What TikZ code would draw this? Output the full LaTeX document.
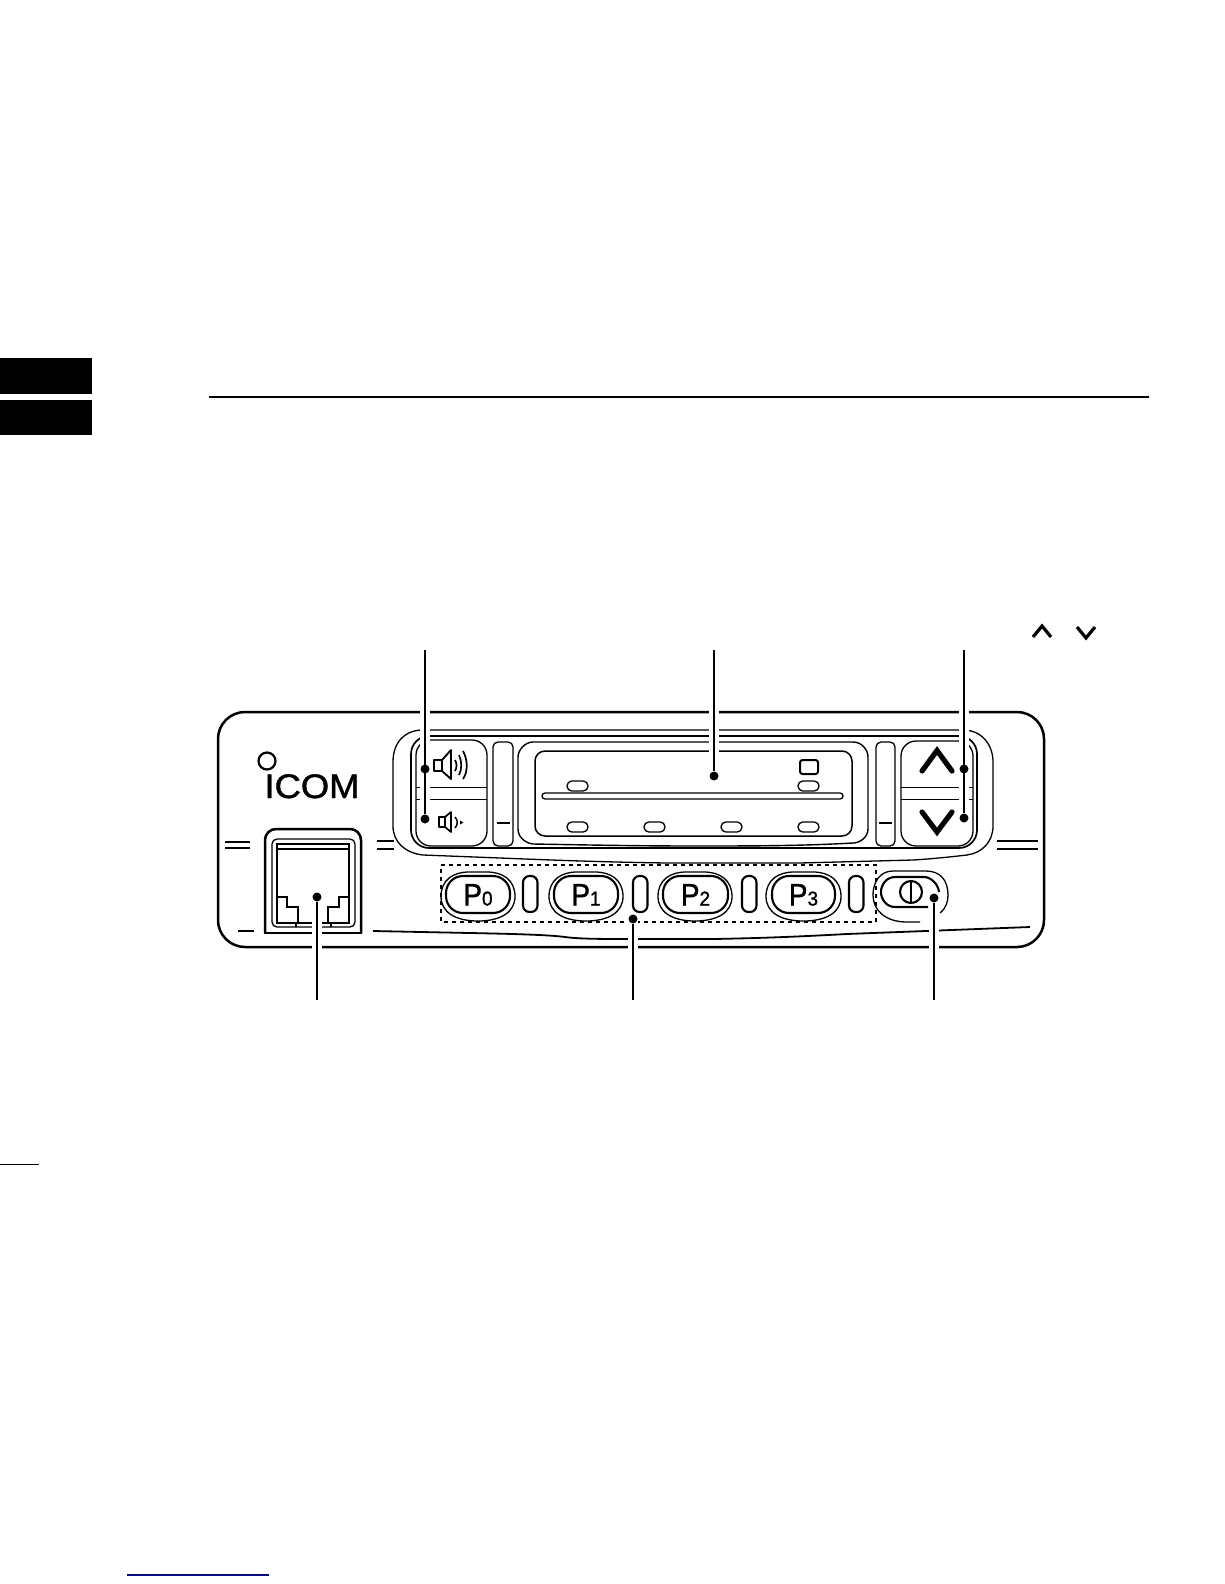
\documentclass[tikz,border=0pt]{standalone}
\usepackage{fontspec}
\setmainfont{Liberation Sans}
\newfontfamily\heavyfont[FakeBold=1.2]{Liberation Sans}
\newcommand{\plbtn}[5]{%
  \draw[thinln] (#1,896.5) .. controls (#1,880) and ({#1+12},872) .. ({#1+28},872) -- ({#2-28},872) .. controls ({#2-12},872) and (#2,880) .. (#2,896.5) .. controls (#2,912) and ({#2-14},921) .. ({(#1+#2)/2},921) .. controls ({#1+14},921) and (#1,912) .. (#1,896.5) -- cycle;
  \draw[btnln,rounded corners=17pt] (#3,876) rectangle (#4,913);
  \node[ptext] (#5) at ({(#3+#4)/2},905.5) {\scalebox{0.9}[1]{P}{\fontsize{20}{20}\selectfont\scalebox{0.95}[1]{#5}}};
}
\tikzset{
  thinln/.style={line width=1.3pt,black},
  btnln/.style={line width=2.1pt,black},
  bodyln/.style={line width=2.5pt,black},
  ptext/.style={anchor=base,inner sep=0pt,font=\heavyfont\fontsize{31}{31}\selectfont},
  dotn/.style={circle,fill=black,inner sep=0pt,minimum size=9pt},
  halo/.style={line width=10pt,white},
  leader/.style={line width=2.5pt,black},
  chev/.style={line width=5.2pt,black,line join=miter,line cap=round},
  smallchev/.style={line width=3.2pt,black,line join=miter},
  ovalbtn/.style={line width=1.3pt,black,rounded corners=4.8pt},
}
\begin{document}
\begin{tikzpicture}[x=1pt,y=-1pt]
\useasboundingbox[fill=white] (0,0) rectangle (1224,1584);
% page furniture
\fill[black] (0,358) rectangle (92,394);
\fill[black] (0,400) rectangle (92,435);
\draw[line width=2pt] (209,397) -- (1149,397);
\draw[line width=1.6pt] (0,1164.5) -- (39,1164.5);
\draw[line width=1.4pt,color={rgb,255:red,10;green,10;blue,130}] (127,1575) -- (269,1575);
\draw[smallchev] (1033,637) -- (1042,626) -- (1051,637);
\draw[smallchev] (1077,627) -- (1086,638) -- (1095,627);
% body
\draw[bodyln,rounded corners=27pt] (218,712) rectangle (1044,947);
% body marks
\draw[line width=1.8pt] (225,842) -- (250,842) (225,848) -- (250,848);
\draw[line width=1.8pt] (377,841) -- (394,841) (377,849) -- (394,849);
\draw[line width=1.8pt] (997,841) -- (1038,841) (997,849) -- (1038,849);
\draw[line width=1.8pt] (238,931) -- (254,931);
\draw[line width=1.8pt] (373,931) -- (470,933) .. controls (520,934) and (550,935) .. (565,937) .. controls (580,939) and (600,939) .. (637,939) -- (713,939) .. controls (770,938) and (810,936) .. (847,934) -- (1030,927);
% logo
\draw[line width=2.2pt] (267,761) circle (8.5);
\node[anchor=base,inner sep=0pt,font=\heavyfont\fontsize{34}{34}\selectfont] (logo) at (312,798) {\scalebox{1.07}[1]{ICOM}};
% port
\draw[bodyln,rounded corners=11pt] (265,933) -- (265,829) -- (361,829) -- (361,933);
\draw[bodyln] (264,933) -- (362,933);
\draw[thinln,rounded corners=5pt] (272,839) rectangle (355,927);
\draw[thinln] (277,844) rectangle (349,923);
\draw[thinln] (277,849) -- (349,849);
\draw[thinln] (277,897) -- (287,897) -- (287,907) -- (298,907) -- (298,923);
\draw[thinln] (349,897) -- (339,897) -- (339,907) -- (328,907) -- (328,923);
\draw[thinln] (296,923) -- (296,927) (331,923) -- (331,927);
% bezel
\draw[thinln] (423,730) -- (963,730) .. controls (982,730) and (993,745) .. (993,762) -- (993,826) .. controls (993,842) and (982,853) .. (967,855) .. controls (950,857) and (930,859) .. (913,860) -- (800,863) -- (667,863) .. controls (600,862) and (550,860) .. (500,858) -- (423,855) .. controls (405,853) and (393,842) .. (393,826) -- (393,762) .. controls (393,742) and (405,730) .. (423,730) -- cycle;
\draw[line width=1.7pt,rounded corners=18pt] (411,736) rectangle (977,848);
% speaker button
\draw[thinln,rounded corners=15pt] (416,740) rectangle (487,846);
\draw[thinln] (416,787.5) -- (487,787.5) (416,799.5) -- (487,799.5);
% speaker icons
\draw[line width=1.8pt,line join=round] (434,760) rectangle (442,771);
\draw[line width=1.8pt,line join=round] (442,760) -- (451,750) -- (451,779) -- (442,771);
\draw[line width=1.7pt] (455,760) .. controls (457,763) and (457,768) .. (455,771);
\draw[line width=1.7pt] (459,755) .. controls (462,761) and (462,770) .. (459,775);
\draw[line width=1.7pt] (463,751) .. controls (468,760) and (468,772) .. (463,779);
\draw[line width=1.7pt,line join=round] (439,817) rectangle (445,827);
\draw[line width=1.7pt,line join=round] (445,817) -- (451,812) -- (451,832) -- (445,827);
\draw[line width=1.5pt] (455,817) .. controls (458,820) and (458,825) .. (455,828);
\fill[black] (460,820.5) -- (463.5,822.5) -- (460,824.5) -- cycle;
% sliders
\draw[thinln,rounded corners=5pt] (493,742) rectangle (513,846);
\draw[thinln] (497,823) -- (510,823);
\draw[thinln,rounded corners=5pt] (876,742) rectangle (895,846);
\draw[thinln] (879,823) -- (892,823);
% display
\draw[line width=1.4pt] (533,742) -- (853,742) .. controls (862,742) and (868,750) .. (868,757) -- (868,829) .. controls (868,837) and (860,843) .. (853,843) .. controls (800,846) and (750,846) .. (693,846) .. controls (640,846) and (590,845) .. (533,844) .. controls (525,843) and (518,837) .. (518,829) -- (518,757) .. controls (518,750) and (525,742) .. (533,742) -- cycle;
\draw[line width=1.5pt,rounded corners=10pt] (535,751) rectangle (852,836);
\draw[thinln,rounded corners=3pt] (542,793) rectangle (843,799);
\foreach \x in {567,798} \draw[ovalbtn] (\x,781) rectangle ({\x+21},791);
\foreach \x in {567,644,721,798} \draw[ovalbtn] (\x,822) rectangle ({\x+21},832);
\draw[line width=2pt,rounded corners=2.5pt] (800,760) rectangle (818,774);
% up/down button
\draw[thinln,rounded corners=15pt] (901,741) rectangle (973,846);
\draw[thinln] (901,787.5) -- (973,787.5) (901,799.5) -- (973,799.5);
\draw[chev] (922,771) -- (937,750.5) -- (952,771);
\draw[chev] (922,812) -- (937,832) -- (952,812);
% dotted box
\draw[line width=2.8pt,dash pattern=on 4pt off 4pt] (441,865) -- (876,865) -- (876,922) -- (441,922) -- cycle;
% P buttons
\plbtn{441}{515}{446}{510}{0}
\plbtn{549}{623}{554}{618}{1}
\plbtn{658}{732}{663}{728}{2}
\plbtn{766}{841}{772}{835}{3}
\foreach \x in {523,633,742,849} \draw[btnln,rounded corners=6.5pt] (\x,876) rectangle ({\x+14.5},912);
% power button
\draw[thinln] (948,895) .. controls (948,880) and (940,871) .. (926,871) -- (893,871) .. controls (880,871) and (873,882) .. (873,895) .. controls (873,910) and (885,922) .. (907,922) -- (920,922);
\draw[thinln] (940,913) .. controls (946,908) and (948,902) .. (948,895);
\draw[btnln] (939,892) .. controls (938,883) and (930,877) .. (924,877) -- (895,877) .. controls (887,877) and (881,884) .. (881,892) .. controls (881,900) and (887,907) .. (895,907) -- (928,907);
\draw[btnln] (911,892) circle (11);
\draw[line width=1.4pt] (911,882) -- (911,902);
% leader anchors
\coordinate (lt) at (425,650);
\coordinate (ct) at (714,650);
\coordinate (rt) at (964,650);
\coordinate (pb) at (317,1000);
\coordinate (kb) at (633,1000);
\coordinate (wb) at (934,1000);
\coordinate (vol) at (425,769);
\coordinate (vold) at (425,819);
\coordinate (disp) at (714,776);
\coordinate (up) at (964,769);
\coordinate (dn) at (964,818);
\coordinate (port) at (317,897);
\coordinate (keys) at (633,919);
\coordinate (pow) at (934,898);
% halos
\draw[halo] (425,700) -- (vold);
\draw[halo] (ct) -- (disp);
\draw[halo] (964,700) -- (dn);
\draw[halo] (port) -- (pb);
\draw[halo] (keys) -- (kb);
\draw[halo] (pow) -- (wb);
% leaders
\node[dotn] (n1) at (vol) {};
\node[dotn] (n2) at (vold) {};
\node[dotn] (n3) at (disp) {};
\node[dotn] (n4) at (up) {};
\node[dotn] (n5) at (dn) {};
\node[dotn] (n6) at (port) {};
\node[dotn] (n7) at (keys) {};
\node[dotn] (n8) at (pow) {};
\draw[leader] (lt) -- (n2);
\draw[leader] (ct) -- (n3);
\draw[leader] (rt) -- (n5);
\draw[leader] (n6) -- (pb);
\draw[leader] (n7) -- (kb);
\draw[leader] (n8) -- (wb);
\end{tikzpicture}
\end{document}
